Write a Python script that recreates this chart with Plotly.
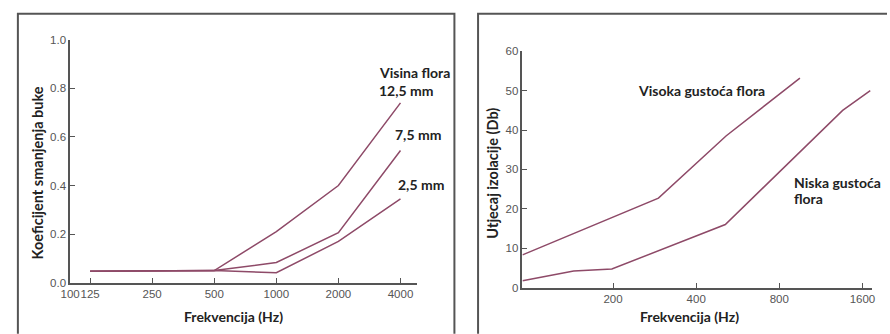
import plotly.graph_objects as go
import math

# ---- Left chart data ----
left_freq = [125, 250, 500, 1000, 2000, 4000]
left_125mm = [0.047, 0.05, 0.05, 0.21, 0.40, 0.74]
left_75mm = [0.047, 0.05, 0.05, 0.083, 0.206, 0.544]
left_25mm = [0.047, 0.05, 0.05, 0.041, 0.17, 0.345]
left_xticks = [100, 125, 250, 500, 1000, 2000, 4000]
left_yticks = [0, 0.2, 0.4, 0.6, 0.8, 1.0]

# ---- Right chart data ----
high_freq = [94, 292, 513, 950]
high_vals = [8.3, 22.7, 38.5, 53.2]
low_freq = [94, 144, 198, 510, 1357, 1708]
low_vals = [1.7, 4.2, 4.7, 16.0, 45.0, 50.0]
right_xticks = [200, 400, 800, 1600]
right_yticks = [0, 10, 20, 30, 40, 50, 60]

W, H = 890, 334
LINE = "#8e4a68"
AX = "#555555"
TXT = "#222222"
TICKF = dict(family="Liberation Sans, Arial, sans-serif", size=11.5, color="#555555")
BOLD = "Lato, 'Open Sans', sans-serif"

def px_x(p):
    return p / W

def px_y(p):
    return 1 - p / H

fig = go.Figure()

for vals in [left_125mm, left_75mm, left_25mm]:
    fig.add_trace(go.Scatter(x=left_freq, y=vals, mode="lines",
                             line=dict(color=LINE, width=1.5),
                             xaxis="x", yaxis="y", showlegend=False))

for f, v in [(high_freq, high_vals), (low_freq, low_vals)]:
    fig.add_trace(go.Scatter(x=f, y=v, mode="lines",
                             line=dict(color=LINE, width=1.5),
                             xaxis="x2", yaxis="y2", showlegend=False))

axis_common = dict(showline=True, linecolor=AX, linewidth=1.5, ticks="inside",
                   ticklen=5, tickcolor=AX, tickwidth=1.2, showgrid=False,
                   zeroline=False, tickfont=TICKF, tickangle=0)

fig.update_layout(
    width=W, height=H,
    margin=dict(l=0, r=0, t=0, b=0),
    paper_bgcolor="white", plot_bgcolor="white",
    xaxis=dict(axis_common, domain=[px_x(61), px_x(413)], type="log",
               range=[2, math.log10(4808)], tickvals=left_xticks,
               ticktext=[str(t) for t in left_xticks], anchor="y"),
    yaxis=dict(axis_common, domain=[px_y(287), px_y(35)], range=[0, 1],
               tickvals=left_yticks, ticktext=[f"{t:.1f}" for t in left_yticks],
               anchor="x"),
    xaxis2=dict(axis_common, domain=[px_x(520), px_x(875)], type="log",
                range=[1.9727, 3.2396], tickvals=right_xticks,
                ticktext=[str(t) for t in right_xticks], anchor="y2"),
    yaxis2=dict(axis_common, domain=[px_y(292), px_y(47)], range=[0, 60],
                tickvals=right_yticks, ticktext=[str(t) for t in right_yticks],
                anchor="x2"),
)

# panel borders (open at bottom / right edge, as cropped in the source)
def border(x0, x1, closed_right=True):
    b, t = px_y(340), px_y(8)
    path = f"M {px_x(x0)},{b} L {px_x(x0)},{t} L {px_x(x1)},{t}"
    if closed_right:
        path += f" L {px_x(x1)},{b}"
    fig.add_shape(type="path", xref="paper", yref="paper", path=path,
                  line=dict(color="#555555", width=2))

border(8, 451, True)
border(475, 890, False)

def ann(text, x, y, size=14, angle=0):
    fig.add_annotation(text="<b>" + text + "</b>", xref="paper", yref="paper",
                       x=px_x(x), y=px_y(y), xanchor="center", yanchor="middle",
                       showarrow=False, textangle=angle,
                       font=dict(family=BOLD, size=size, color=TXT))

ann("Visina flora", 410, 69)
ann("12,5 mm", 402, 88)
ann("7,5 mm", 414, 133)
ann("2,5 mm", 417, 185)
ann("Visoka gustoća flora", 702, 88)
ann("Niska gustoća", 840, 183)
ann("flora", 810, 200)
ann("Frekvencija (Hz)", 227, 322)
ann("Frekvencija (Hz)", 690, 322)
ann("Koeficijent smanjenja buke", 28, 173, size=14.5, angle=-90)
ann("Utjecaj izolacije (Db)", 490, 173, size=14.5, angle=-90)

fig.write_html("out.html",
               config={"displayModeBar": False},
               post_script="document.body.style.margin='0';document.body.style.overflow='hidden';")
